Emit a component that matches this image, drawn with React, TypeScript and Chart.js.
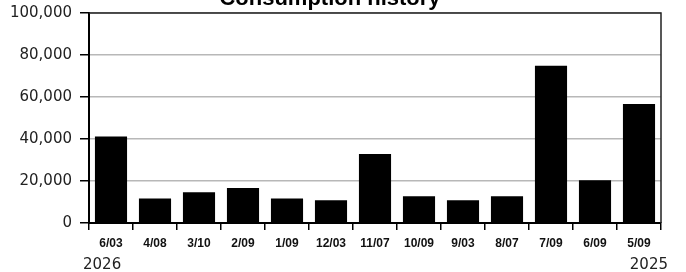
import React, { useEffect, useRef } from "react";
import { Chart, registerables } from "chart.js";

Chart.register(...registerables);

const categories = ["6/03", "4/08", "3/10", "2/09", "1/09", "12/03", "11/07", "10/09", "9/03", "8/07", "7/09", "6/09", "5/09"];
const consumption = [41200, 11700, 14600, 16700, 11700, 10800, 32900, 12700, 10800, 12700, 74900, 20300, 56700];
const yearLabels = ["2026", "2025"];
const titleText = "Consumption history";

const overlay = {
  id: "overlay",
  afterDraw(chart: any) {
    const { ctx, chartArea } = chart;
    const { left, right, top, bottom } = chartArea;
    ctx.save();
    ctx.strokeStyle = "#222";
    ctx.lineWidth = 1.5;
    ctx.beginPath();
    ctx.moveTo(left, top);
    ctx.lineTo(right, top);
    ctx.lineTo(right, bottom);
    ctx.stroke();
    ctx.fillStyle = "#000";
    ctx.font = "bold 22px 'Liberation Sans', Arial, sans-serif";
    ctx.textAlign = "center";
    ctx.textBaseline = "alphabetic";
    ctx.fillText(titleText, 330, 5);
    ctx.fillStyle = "#222";
    ctx.font = "15px 'DejaVu Sans', sans-serif";
    ctx.textBaseline = "bottom";
    ctx.textAlign = "left";
    ctx.fillText(yearLabels[0], 83, 273);
    ctx.textAlign = "right";
    ctx.fillText(yearLabels[1], 668, 273);
    ctx.restore();
  },
};

export default function App() {
  const ref = useRef<HTMLCanvasElement>(null);
  useEffect(() => {
    document.body.style.margin = "0";
    const chart = new Chart(ref.current!, {
      type: "bar",
      data: {
        labels: categories,
        datasets: [
          {
            data: consumption,
            backgroundColor: "#000",
            borderWidth: 0,
            categoryPercentage: 1,
            barPercentage: 0.73,
          },
        ],
      },
      options: {
        responsive: false,
        animation: false,
        layout: { padding: { top: 13, right: 25, left: 0, bottom: 0 } },
        plugins: { legend: { display: false }, tooltip: { enabled: false }, title: { display: false } },
        scales: {
          x: {
            afterFit(scale: any) {
              scale.height = 49;
              scale.paddingLeft = 0;
              scale.paddingRight = 0;
            },
            grid: { display: true, drawOnChartArea: false, drawTicks: true, tickLength: 7, color: "#000", lineWidth: 1.5 },
            border: { display: true, color: "#000", width: 2 },
            ticks: {
              color: "#111",
              font: { family: "'Liberation Sans', Arial, sans-serif", size: 12, weight: "bold" },
              padding: 6,
              maxRotation: 0,
              autoSkip: false,
            },
          },
          y: {
            min: 0,
            max: 100000,
            afterFit(scale: any) {
              scale.width = 89;
              scale.paddingTop = 0;
              scale.paddingBottom = 0;
            },
            grid: { color: "#b8b8b8", lineWidth: 1.5, tickLength: 9, tickColor: "#000", tickWidth: 1.5 },
            border: { display: true, color: "#000", width: 2 },
            ticks: {
              stepSize: 20000,
              color: "#222",
              padding: 8,
              font: { family: "'DejaVu Sans', sans-serif", size: 15 },
              callback: (v: any) => Number(v).toLocaleString("en-US"),
            },
          },
        },
      },
      plugins: [overlay],
    });
    return () => chart.destroy();
  }, []);
  return (
    <div style={{ position: "absolute", left: 0, top: 0, width: 686, height: 272, background: "#fff" }}>
      <canvas ref={ref} width={686} height={272} />
    </div>
  );
}
